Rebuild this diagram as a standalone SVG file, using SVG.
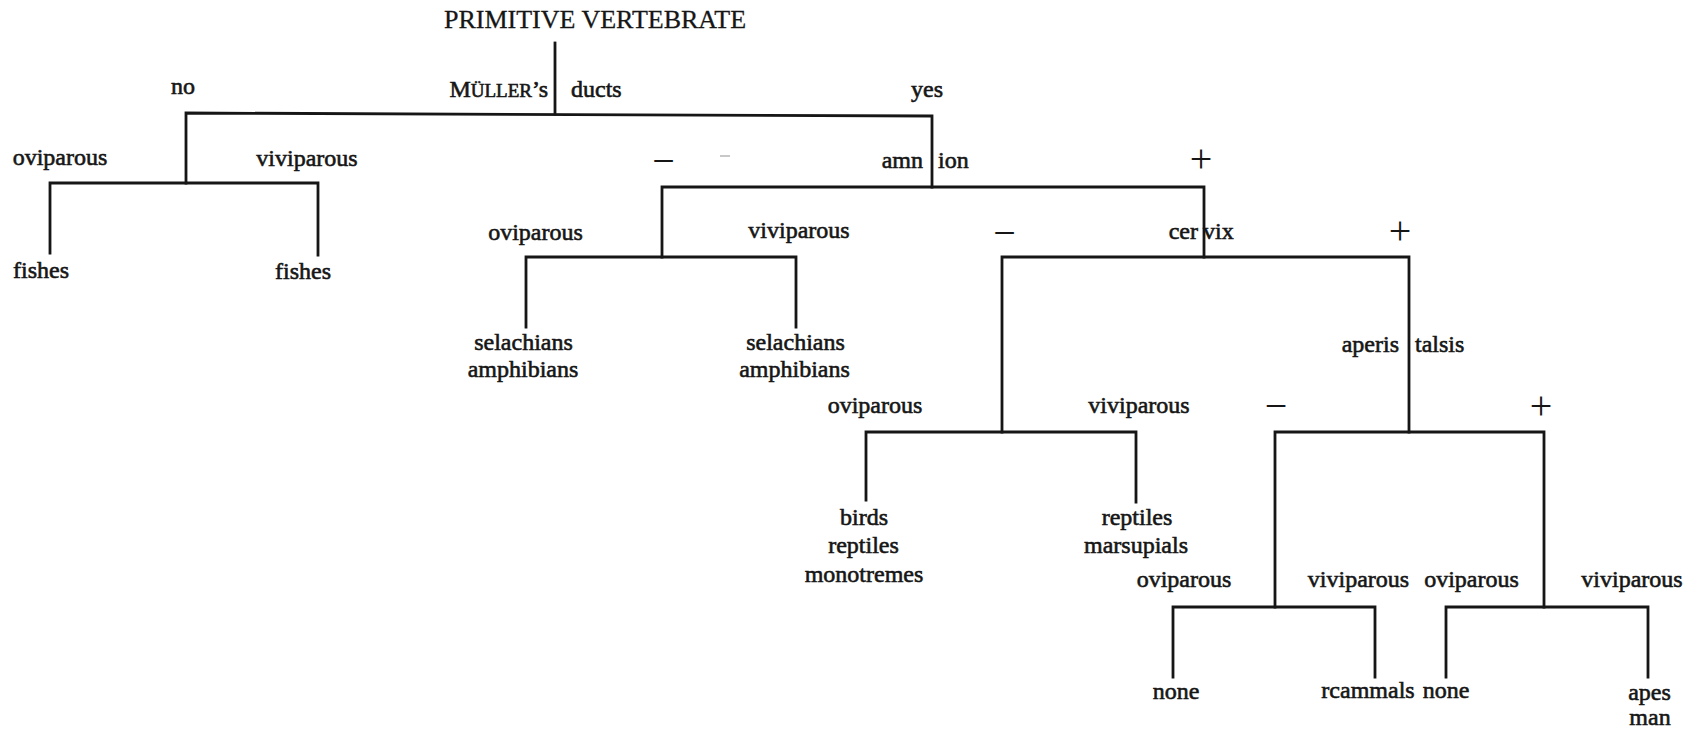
<svg xmlns="http://www.w3.org/2000/svg" width="1702" height="731" viewBox="0 0 1702 731">
<style>
text{font-family:"Liberation Serif","Times New Roman",serif;font-size:24px;fill:#161616;stroke:#161616;stroke-width:0.6px;text-anchor:middle}
.st{text-anchor:start}
.en{text-anchor:end}
.title{font-size:26px;stroke-width:0.3px}
.sign{font-size:40px;stroke:none}
.sc{font-size:19px}
#connectors path{fill:none;stroke:#161616;stroke-width:2.8;stroke-linejoin:miter;stroke-linecap:square}
</style>
<rect width="1702" height="731" fill="#ffffff"/>
<g id="connectors">
<path d="M555 43 V114"/>
<path d="M186 183 V113 L932 116 V187"/>
<path d="M50 253 V183 H318 V255"/>
<path d="M662 257 V187 H1204 V257"/>
<path d="M526 327 V257 H796 V327"/>
<path d="M1002 432 V257 H1409 V432"/>
<path d="M866 500 V432 H1136 V502"/>
<path d="M1275 607 V432 H1544 V607"/>
<path d="M1173 677 V607 H1375 V677"/>
<path d="M1446 677 V607 H1648 V677"/>
</g>
<g id="root"><text class="title st" x="444" y="28">PRIMITIVE VERTEBRATE</text></g>
<g id="mullers-ducts">
<text class="en" x="548" y="97">M<tspan class="sc">ÜLLER</tspan>’s</text>
<text class="st" x="571" y="97">ducts</text>
<text x="183" y="94">no</text>
<text x="927" y="97">yes</text>
</g>
<g id="no-ducts">
<text x="60" y="165">oviparous</text>
<text x="307" y="166">viviparous</text>
</g>
<g id="fishes-oviparous"><text x="41" y="278">fishes</text></g>
<g id="fishes-viviparous"><text x="303" y="279">fishes</text></g>
<g id="amnion">
<text class="en" x="923" y="168">amn</text>
<text class="st" x="938" y="168">ion</text>
<text class="sign" x="663.5" y="174">−</text>
<line x1="720" y1="156" x2="730" y2="156" stroke="#c8c8c8" stroke-width="2"/>
<text class="sign" x="1201" y="172">+</text>
</g>
<g id="no-amnion">
<text x="535.5" y="240">oviparous</text>
<text x="799" y="238">viviparous</text>
</g>
<g id="selachians-oviparous">
<text x="523.5" y="350">selachians</text>
<text x="523" y="377">amphibians</text>
</g>
<g id="selachians-viviparous">
<text x="795.5" y="350">selachians</text>
<text x="794.5" y="377">amphibians</text>
</g>
<g id="cervix">
<text class="en" x="1198" y="239">cer</text>
<text class="st" x="1203" y="239">vix</text>
<text class="sign" x="1004.5" y="246">−</text>
<text class="sign" x="1400" y="244">+</text>
</g>
<g id="no-cervix">
<text x="875" y="413">oviparous</text>
<text x="1139" y="413">viviparous</text>
</g>
<g id="birds-reptiles">
<text x="864" y="525">birds</text>
<text x="863.5" y="553">reptiles</text>
<text x="864" y="582">monotremes</text>
</g>
<g id="reptiles-marsupials">
<text x="1137" y="525">reptiles</text>
<text x="1136" y="553">marsupials</text>
</g>
<g id="aperistalsis">
<text class="en" x="1399" y="352">aperis</text>
<text class="st" x="1415" y="352">talsis</text>
<text class="sign" x="1276" y="419">−</text>
<text class="sign" x="1541" y="419">+</text>
</g>
<g id="no-aperistalsis">
<text x="1184" y="587">oviparous</text>
<text x="1358.5" y="587">viviparous</text>
</g>
<g id="with-aperistalsis">
<text x="1471.5" y="587">oviparous</text>
<text x="1632" y="587">viviparous</text>
</g>
<g id="none-1"><text x="1176" y="699">none</text></g>
<g id="mammals"><text x="1368" y="698">rcammals</text></g>
<g id="none-2"><text x="1446" y="698">none</text></g>
<g id="apes-man">
<text x="1649.5" y="700">apes</text>
<text x="1650" y="725">man</text>
</g>
</svg>
